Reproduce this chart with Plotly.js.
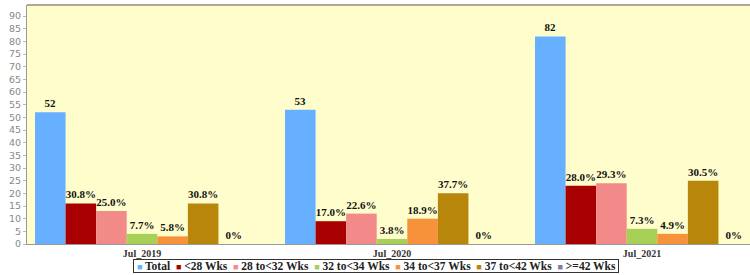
<!DOCTYPE html>
<html>
<head>
<meta charset="utf-8">
<script src="https://cdn.plot.ly/plotly-3.0.1.min.js"></script>
<style>html,body{margin:0;padding:0;background:#fff;}#chart{width:750px;height:275px;}</style>
</head>
<body>
<div id="chart"></div>
<script>
var categories = ["Jul_2019", "Jul_2020", "Jul_2021"];
var seriesNames = ["Total", "<28 Wks", "28 to<32 Wks", "32 to<34 Wks", "34 to<37 Wks", "37 to<42 Wks", ">=42 Wks"];
var total = [52, 53, 82];
var wk28 = [16, 9, 23];
var wk28to32 = [13, 12, 24];
var wk32to34 = [4, 2, 6];
var wk34to37 = [3, 10, 4];
var wk37to42 = [16, 20, 25];
var wk42plus = [0, 0, 0];
var yTicks = [0,5,10,15,20,25,30,35,40,45,50,55,60,65,70,75,80,85,90];

var colors = ["#66B0FF", "#A80000", "#F28A8A", "#A6D156", "#F7923A", "#B8860B", "#7C7CA8"];
var series = [total, wk28, wk28to32, wk32to34, wk34to37, wk37to42, wk42plus];

function pctLabels(vals) {
  return vals.map(function (v, i) {
    if (v === 0) return "0%";
    return (v / total[i] * 100).toFixed(1) + "%";
  });
}

function esc(s) { return s.replace(/&/g, "&amp;").replace(/</g, "&lt;").replace(/>/g, "&gt;"); }

var traces = series.map(function (vals, k) {
  return {
    type: "bar",
    name: seriesNames[k],
    x: categories,
    y: vals,
    text: k === 0 ? vals.map(String) : pctLabels(vals),
    textposition: "outside",
    cliponaxis: false,
    textfont: {family: "Liberation Serif", size: 11, color: "#111", weight: "bold"},
    marker: {color: colors[k], line: {width: 0}},
    hoverinfo: "none",
    showlegend: false
  };
});

// compact legend built from the series names and colours
var legendText = "\u00A0" + seriesNames.map(function (n, k) {
  return "<span style='color:" + colors[k] + ";font-size:9px'>\u25A0</span> " + esc(n);
}).join("\u00A0 ") + "\u00A0";

var layout = {
  width: 750, height: 275,
  margin: {l: 27, r: 0, t: 5, b: 31, autoexpand: false},
  paper_bgcolor: "#ffffff",
  plot_bgcolor: "#FFFDCC",
  barmode: "group",
  bargap: 0.144,
  bargroupgap: 0,
  showlegend: false,
  xaxis: {
    type: "category",
    range: [-0.46, 2.432],
    showline: true, linecolor: "#999", linewidth: 1,
    ticks: "",
    tickfont: {family: "Liberation Serif", size: 10, color: "#333", weight: "bold"},
    showgrid: false,
    fixedrange: true
  },
  yaxis: {
    range: [0, 94.4],
    tickvals: yTicks,
    ticktext: yTicks.map(String),
    ticks: "outside", ticklen: 3, tickcolor: "#bbb",
    tickfont: {family: "DejaVu Sans", size: 9.5, color: "#888"},
    showline: true, linecolor: "#999", linewidth: 1,
    showgrid: false, zeroline: false,
    fixedrange: true
  },
  shapes: [{
    type: "line", xref: "paper", yref: "paper",
    x0: 0, x1: 1, y0: 1, y1: 1,
    line: {color: "#B0A890", width: 2}
  }],
  annotations: [{
    xref: "paper", yref: "paper",
    x: 0.4827, xanchor: "center",
    y: -0.062, yanchor: "top",
    text: legendText,
    showarrow: false,
    font: {family: "Liberation Serif", size: 11.5, color: "#222", weight: "bold"},
    bordercolor: "#333", borderwidth: 1, borderpad: 0,
    bgcolor: "#ffffff"
  }]
};

Plotly.newPlot("chart", traces, layout, {displayModeBar: false, staticPlot: true});
</script>
</body>
</html>
